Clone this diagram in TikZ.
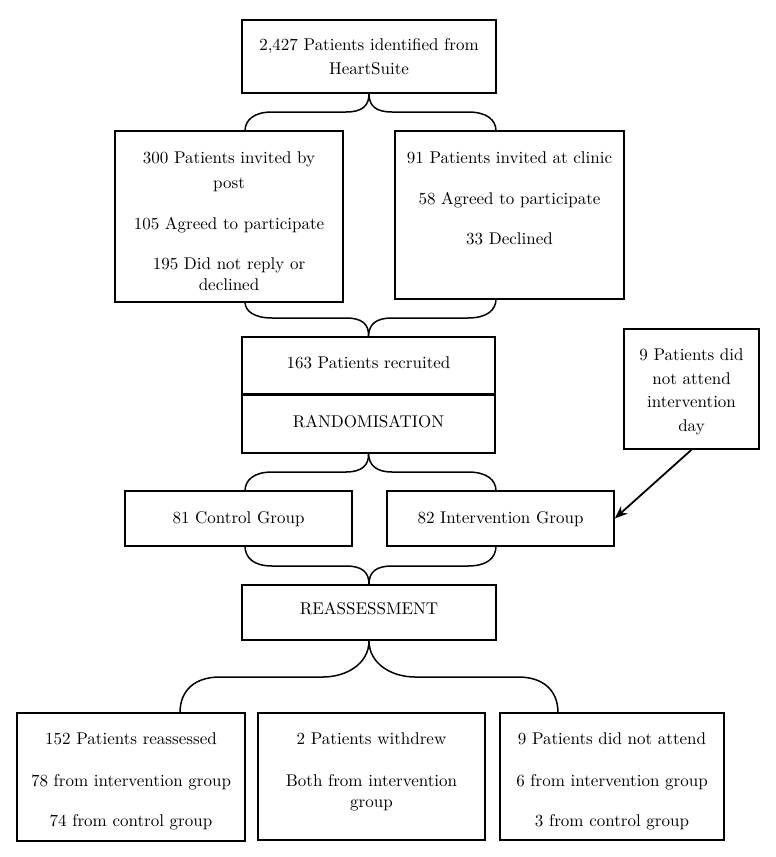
\documentclass[tikz,border=0pt]{standalone}
\usepackage{fontspec}
\setmainfont{lmroman10-regular}[Extension=.otf]
\usetikzlibrary{arrows.meta}
\begin{document}
\begin{tikzpicture}[x=1pt,y=-1pt,
  box/.style={draw,line width=1.5pt,inner sep=0pt,rectangle},
  txt/.style={anchor=base,inner sep=0pt,font=\fontsize{17}{21}\selectfont},
  brace/.style={line width=1.5pt},
  arr/.style={line width=1.8pt,-{Stealth[length=13pt,width=10pt]}}]
\useasboundingbox (0,0) rectangle (776,857);
% boxes
\node[box,minimum width=254pt,minimum height=73pt] (b1) at (369,56.5) {};
\node[box,minimum width=228pt,minimum height=171pt] (b2) at (229,216.5) {};
\node[box,minimum width=229pt,minimum height=168pt] (b3) at (509.5,215) {};
\node[box,minimum width=253pt,minimum height=58pt] (b4) at (368.5,366) {};
\node[box,minimum width=253pt,minimum height=58pt] (b5) at (368.5,424) {};
\node[box,minimum width=227pt,minimum height=55pt] (b6) at (238.5,518.5) {};
\node[box,minimum width=227pt,minimum height=55pt] (b7) at (500.5,518.5) {};
\node[box,minimum width=135pt,minimum height=120pt] (b8) at (691.5,389) {};
\node[box,minimum width=254pt,minimum height=55pt] (b9) at (369,612.5) {};
\node[box,minimum width=228pt,minimum height=128pt] (b10) at (131,777) {};
\node[box,minimum width=227pt,minimum height=127pt] (b11) at (371.5,776.5) {};
\node[box,minimum width=224pt,minimum height=127pt] (b12) at (612,776.5) {};
\draw[line width=3pt] (b5.north west) -- (b5.north east);
% texts
\node[txt] (t1a) at (369,50) {2,427 Patients identified from};
\node[txt] (t1b) at (369,74) {HeartSuite};
\node[txt] (t2a) at (229,163) {300 Patients invited by};
\node[txt] (t2b) at (229,188) {post};
\node[txt] (t2c) at (229,229) {105 Agreed to participate};
\node[txt] (t2d) at (229,269) {195 Did not reply or};
\node[txt] (t2e) at (229,290) {declined};
\node[txt] (t3a) at (509.5,163) {91 Patients invited at clinic};
\node[txt] (t3b) at (509.5,204) {58 Agreed to participate};
\node[txt] (t3c) at (509.5,244) {33 Declined};
\node[txt] (t4) at (368.5,368) {163 Patients recruited};
\node[txt] (t5) at (368.5,427) {RANDOMISATION};
\node[txt] (t6) at (238.5,523) {81 Control Group};
\node[txt] (t7) at (500.5,523) {82 Intervention Group};
\node[txt] (t8a) at (691.5,360) {9 Patients did};
\node[txt] (t8b) at (691.5,384) {not attend};
\node[txt] (t8c) at (691.5,407) {intervention};
\node[txt] (t8d) at (691.5,431) {day};
\node[txt] (t9) at (369,614) {REASSESSMENT};
\node[txt] (t10a) at (131,744) {152 Patients reassessed};
\node[txt] (t10b) at (131,786) {78 from intervention group};
\node[txt] (t10c) at (131,826) {74 from control group};
\node[txt] (t11a) at (371.5,744) {2 Patients withdrew};
\node[txt] (t11b) at (371.5,786) {Both from intervention};
\node[txt] (t11c) at (371.5,807) {group};
\node[txt] (t12a) at (612,744) {9 Patients did not attend};
\node[txt] (t12b) at (612,786) {6 from intervention group};
\node[txt] (t12c) at (612,826) {3 from control group};
% brace end coordinates
\coordinate (aL) at (245,131); \coordinate (aR) at (496,131);
\coordinate (bL) at (245,302); \coordinate (bR) at (496,299);
\coordinate (cL) at (245,491); \coordinate (cR) at (496,491);
\coordinate (dL) at (245,546); \coordinate (dR) at (496,546);
\coordinate (eL) at (180,713); \coordinate (eR) at (558,713);
% brace A
\draw[brace] (aL) .. controls (245,120) and (254,112) .. (272,112) -- (346,112)
  .. controls (362,112) and (369,106) .. (b1.south)
  .. controls (369,106) and (376,112) .. (392,112) -- (468,112)
  .. controls (487,112) and (496,120) .. (aR);
% brace B
\draw[brace] (bL) .. controls (245,311) and (254,318) .. (272,318) -- (346,318)
  .. controls (362,318) and (369,324) .. (b4.north)
  .. controls (369,324) and (376,318) .. (392,318) -- (468,318)
  .. controls (487,318) and (496,310) .. (bR);
% brace C
\draw[brace] (b5.south) .. controls (369,465) and (362,472) .. (346,472) -- (272,472)
  .. controls (254,472) and (245,480) .. (cL);
\draw[brace] (b5.south) .. controls (369,465) and (376,472) .. (392,472) -- (468,472)
  .. controls (487,472) and (496,480) .. (cR);
% brace D
\draw[brace] (dL) .. controls (245,558) and (254,566) .. (272,566) -- (346,566)
  .. controls (362,566) and (369,572) .. (b9.north)
  .. controls (369,572) and (376,566) .. (392,566) -- (468,566)
  .. controls (487,566) and (496,558) .. (dR);
% brace E
\draw[brace] (b9.south) .. controls (369,664) and (346,677) .. (323,677) -- (220,677)
  .. controls (195,677) and (180,690) .. (eL);
\draw[brace] (b9.south) .. controls (369,664) and (392,677) .. (415,677) -- (518,677)
  .. controls (543,677) and (558,690) .. (eR);
% arrow
\draw[arr] (b8.south) -- (b7.east);
\end{tikzpicture}
\end{document}
